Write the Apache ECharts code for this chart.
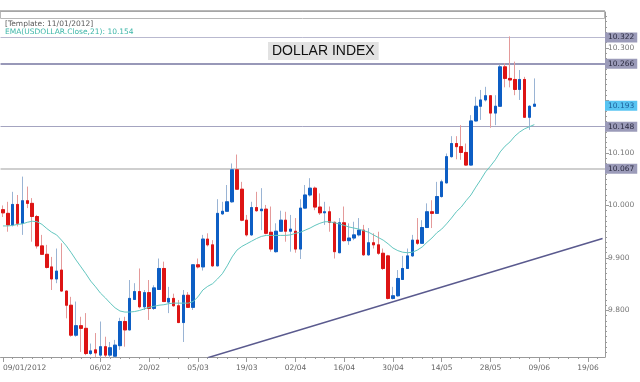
<!DOCTYPE html>
<html><head><meta charset="utf-8">
<script src="https://cdn.jsdelivr.net/npm/echarts@6/dist/echarts.min.js"></script>
<style>html,body{margin:0;padding:0;background:#fff}#c{width:640px;height:382px}</style>
</head><body><div id="c"></div>
<script>
const categories = ('09/01/2012 10/01 11/01 12/01 13/01 16/01 17/01 18/01 19/01 20/01 23/01 24/01 25/01 26/01 27/01 30/01 31/01 ' +
'01/02 02/02 03/02 06/02 07/02 08/02 09/02 10/02 13/02 14/02 15/02 16/02 17/02 20/02 21/02 22/02 23/02 24/02 27/02 28/02 29/02 ' +
'01/03 02/03 05/03 06/03 07/03 08/03 09/03 12/03 13/03 14/03 15/03 16/03 19/03 20/03 21/03 22/03 23/03 26/03 27/03 28/03 29/03 30/03 ' +
'02/04 03/04 04/04 05/04 06/04 09/04 10/04 11/04 12/04 13/04 16/04 17/04 18/04 19/04 20/04 23/04 24/04 25/04 26/04 27/04 30/04 ' +
'01/05 02/05 03/05 04/05 07/05 08/05 09/05 10/05 11/05 14/05 15/05 16/05 17/05 18/05 21/05 22/05 23/05 24/05 25/05 28/05 29/05 30/05 31/05 ' +
'01/06 04/06 05/06 06/06 07/06 08/06 ' +
'09/06 10/06 11/06 12/06 13/06 14/06 15/06 16/06 17/06 18/06 19/06 20/06 21/06 22/06').split(' ');

const xTickLabels = ['09/01/2012','06/02','20/02','05/03','19/03','02/04','16/04','30/04','14/05','28/05','09/06','19/06'];
const yTickLabels = [9.8, 9.9, 10.0, 10.1, 10.3];

const open = [9.992,9.985,9.963,10.002,9.966,10.009,10.004,9.979,9.923,9.907,
9.883,9.860,9.877,9.837,9.810,9.753,9.771,9.766,9.718,9.725,
9.715,9.731,9.715,9.713,9.733,9.779,9.763,9.821,9.836,9.807,
9.834,9.804,9.840,9.880,9.816,9.823,9.809,9.777,9.829,9.806,
9.887,9.883,9.936,9.925,9.885,9.984,9.989,10.007,10.068,10.031,
9.972,9.944,9.996,9.990,9.993,9.949,9.912,9.951,9.972,9.951,
9.951,9.917,9.995,10.020,10.033,9.997,9.986,9.988,9.968,9.910,
9.967,9.933,9.938,9.944,9.953,9.906,9.929,9.925,9.909,9.904,
9.823,9.828,9.859,9.880,9.904,9.934,9.928,9.958,9.988,9.985,
10.017,10.043,10.093,10.118,10.112,10.101,10.077,10.161,10.189,10.201,
10.209,10.176,10.189,10.264,10.242,10.240,10.221,10.240,10.168,10.189];
const close = [9.986,9.963,10.002,9.966,10.009,10.004,9.979,9.923,9.907,9.882,
9.860,9.875,9.837,9.810,9.753,9.771,9.766,9.718,9.723,9.719,
9.731,9.715,9.729,9.734,9.779,9.763,9.823,9.836,9.807,9.834,
9.804,9.843,9.880,9.817,9.823,9.809,9.777,9.829,9.806,9.887,
9.883,9.936,9.925,9.885,9.985,9.989,10.007,10.068,10.031,9.972,
9.944,9.996,9.990,9.993,9.947,9.917,9.951,9.972,9.951,9.955,
9.917,9.995,10.020,10.033,9.997,9.986,9.988,9.968,9.912,9.967,
9.933,9.938,9.944,9.953,9.906,9.929,9.925,9.909,9.880,9.823,
9.828,9.861,9.880,9.904,9.934,9.928,9.958,9.988,9.985,10.017,
10.045,10.093,10.118,10.112,10.101,10.077,10.161,10.189,10.201,10.209,
10.176,10.189,10.264,10.242,10.239,10.221,10.240,10.168,10.189,10.193];
const low = [9.978,9.950,9.960,9.960,9.944,9.995,9.931,9.918,9.906,9.880,
9.839,9.852,9.836,9.785,9.750,9.750,9.721,9.715,9.715,9.711,
9.710,9.710,9.710,9.710,9.725,9.731,9.762,9.820,9.804,9.801,
9.782,9.801,9.839,9.816,9.795,9.807,9.776,9.740,9.805,9.801,
9.880,9.876,9.922,9.883,9.884,9.982,9.988,10.005,10.030,9.970,
9.941,9.942,9.988,9.953,9.945,9.912,9.910,9.950,9.931,9.912,
9.910,9.898,9.994,10.017,9.991,9.982,9.963,9.950,9.899,9.909,
9.931,9.925,9.934,9.941,9.904,9.904,9.918,9.906,9.877,9.821,
9.821,9.826,9.858,9.879,9.902,9.925,9.927,9.957,9.957,9.984,
10.015,10.042,10.091,10.088,10.087,10.076,10.076,10.160,10.163,10.198,
10.148,10.153,10.188,10.225,10.225,10.210,10.201,10.167,10.144,10.188];
const high = [10.000,10.007,10.026,10.020,10.055,10.036,10.014,9.982,9.944,9.925,
9.902,9.918,9.928,9.838,9.826,9.817,9.788,9.795,9.737,9.757,
9.779,9.750,9.740,9.744,9.786,9.788,9.858,9.852,9.880,9.839,
9.858,9.848,9.899,9.893,9.845,9.832,9.820,9.839,9.835,9.888,
9.899,9.944,9.947,9.934,10.012,10.007,10.039,10.080,10.097,10.045,
9.982,10.007,10.026,10.033,10.001,9.998,9.966,9.990,9.988,9.982,
9.976,10.012,10.039,10.052,10.036,10.023,10.007,9.998,9.969,9.976,
9.998,9.966,9.969,9.976,9.963,9.957,9.947,9.950,9.918,9.906,
9.845,9.877,9.904,9.918,9.944,9.976,9.972,10.004,10.010,10.045,
10.049,10.099,10.132,10.132,10.153,10.118,10.172,10.207,10.220,10.226,
10.210,10.210,10.268,10.271,10.322,10.274,10.258,10.245,10.191,10.242];
const ema21 = [9.961,9.961,9.962,9.964,9.965,9.968,9.970,9.969,9.964,9.956,
9.949,9.944,9.934,9.923,9.910,9.896,9.883,9.870,9.856,9.845,
9.833,9.824,9.814,9.805,9.799,9.797,9.797,9.798,9.800,9.803,
9.806,9.808,9.810,9.811,9.813,9.814,9.814,9.814,9.814,9.817,
9.826,9.839,9.846,9.851,9.860,9.870,9.885,9.902,9.915,9.922,
9.927,9.932,9.937,9.941,9.943,9.943,9.943,9.943,9.943,9.944,
9.947,9.949,9.953,9.957,9.962,9.966,9.969,9.969,9.967,9.965,
9.962,9.959,9.957,9.955,9.952,9.949,9.944,9.939,9.934,9.927,
9.919,9.914,9.911,9.910,9.911,9.915,9.921,9.930,9.938,9.948,
9.955,9.965,9.976,9.988,9.997,10.009,10.020,10.035,10.049,10.064,
10.075,10.087,10.102,10.113,10.121,10.132,10.140,10.146,10.150,10.154];

const levels = [10.322, 10.266, 10.148, 10.067];
const lastPrice = 10.193;
const trendX = ['07/03', '22/06'];
const trendY = [9.710, 9.937];

const yMin = 9.7114, yMax = 10.3685;
const FONT = 'DejaVu Sans';

const wickData = open.map((o, i) => [o, close[i], low[i], high[i]]);
const bodyData = open.map((o, i) => [o, close[i], Math.min(o, close[i]), Math.max(o, close[i])]);
const minorTicks = [];
for (let k = 972; k <= 1036; k++) minorTicks.push(k / 100);

const levelStyles = [
  {color: '#b9b9cf', width: 1},
  {color: '#9898b8', width: 2},
  {color: '#a4a4c0', width: 1},
  {color: '#cfcfcf', width: 2}
];
const badgeLabel = (v, bg, fg) => ({
  show: true, position: 'end', distance: 0,
  formatter: v.toFixed(3),
  backgroundColor: bg, color: fg, fontSize: 7.5, fontFamily: FONT,
  padding: [1, 3, 1, 3]
});
const markData = levels.map((v, i) => ({
  yAxis: v,
  lineStyle: {color: levelStyles[i].color, width: levelStyles[i].width, type: 'solid'},
  label: badgeLabel(v, '#9b9bb9', '#2b2b40')
}));
markData.push({yAxis: lastPrice, lineStyle: {color: 'rgba(0,0,0,0)', width: 1},
  label: badgeLabel(lastPrice, '#58c4f2', '#1d5f9a')});

const chart = echarts.init(document.getElementById('c'), null, {renderer: 'canvas'});
chart.setOption({
  animation: false,
  backgroundColor: '#ffffff',
  grid: {left: -4, right: 35, top: 12, bottom: 25, containLabel: false},
  xAxis: [{
    type: 'category', data: categories, boundaryGap: true,
    axisLine: {show: true, lineStyle: {color: '#9a9a9a', width: 1}},
    axisTick: {show: true, alignWithLabel: true, length: 5,
      interval: (i, v) => xTickLabels.includes(v), lineStyle: {color: '#9a9a9a'}},
    axisLabel: {show: true, interval: (i, v) => xTickLabels.includes(v),
      color: '#666', fontSize: 7.5, fontFamily: FONT, margin: 7, alignMinLabel: 'left'},
    splitLine: {show: false}
  }, {
    type: 'category', data: categories, boundaryGap: true, position: 'bottom',
    axisLine: {show: false},
    axisTick: {show: true, alignWithLabel: true, length: 2, interval: 1, lineStyle: {color: '#9a9a9a'}},
    axisLabel: {show: false}, splitLine: {show: false}
  }],
  yAxis: [{
    type: 'value', position: 'right', min: yMin, max: yMax,
    axisLine: {show: true, lineStyle: {color: '#9a9a9a'}},
    axisTick: {show: true, length: 4, customValues: yTickLabels.concat([10.2]), lineStyle: {color: '#9a9a9a'}},
    axisLabel: {show: true, customValues: yTickLabels, formatter: v => v.toFixed(3),
      color: '#777', fontSize: 7.5, fontFamily: FONT, margin: 3},
    splitLine: {show: false}
  }, {
    type: 'value', position: 'right', min: yMin, max: yMax,
    axisLine: {show: false},
    axisTick: {show: true, length: 2, customValues: minorTicks, lineStyle: {color: '#9a9a9a'}},
    axisLabel: {show: false}, splitLine: {show: false}
  }],
  series: [{
    name: 'wick', type: 'candlestick', data: wickData, barWidth: 3, z: 2,
    itemStyle: {color: '#0d5ec4', color0: '#dd1414', borderColor: '#9ab4d4', borderColor0: '#e49a9a', borderWidth: 1},
    markLine: {silent: true, symbol: 'none', animation: false, data: markData, z: 1}
  }, {
    name: 'body', type: 'candlestick', data: bodyData, barWidth: 3, z: 3,
    itemStyle: {color: '#0d5ec4', color0: '#dd1414', borderColor: '#0d5ec4', borderColor0: '#dd1414', borderWidth: 1}
  }, {
    name: 'EMA', type: 'line', data: ema21, showSymbol: false, symbol: 'none', z: 4,
    lineStyle: {color: '#62c6bf', width: 1}
  }, {
    name: 'trend', type: 'line', data: trendX.map((x, i) => [x, trendY[i]]), showSymbol: false, symbol: 'none', z: 4,
    lineStyle: {color: '#5a5a8e', width: 1.5}
  }],
  graphic: [
    {type: 'rect', shape: {x: 0.5, y: 11.5, width: 604, height: 7}, style: {fill: '#fff', stroke: '#b8b8b8', lineWidth: 1}, z: 10},
    {type: 'line', shape: {x1: 0, y1: 11, x2: 605, y2: 11}, style: {stroke: '#a0a0a0', lineWidth: 1.5}, z: 11},
    {type: 'text', left: 5, top: 20, style: {text: '[Template: 11/01/2012]', fill: '#5a5a5a', font: '7.5px "DejaVu Sans"'}, z: 11},
    {type: 'text', left: 5, top: 28.5, style: {text: 'EMA(USDOLLAR.Close,21): 10.154', fill: '#3cb6a8', font: '7.5px "DejaVu Sans"'}, z: 11},
    {type: 'text', left: 268, top: 42, style: {text: 'DOLLAR INDEX', fill: '#111', font: '14px "Liberation Sans"',
      backgroundColor: '#e2e2e2', padding: [2, 4, 2, 4]}, z: 11}
  ]
});
</script></body></html>
